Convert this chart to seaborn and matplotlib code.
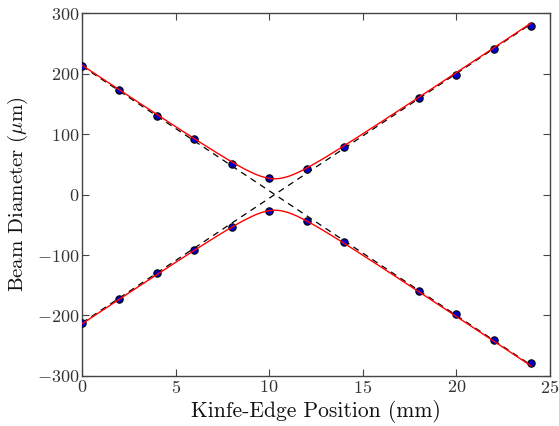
import numpy as np
import pandas as pd
import matplotlib
matplotlib.use("Agg")
import matplotlib.pyplot as plt
import seaborn as sns

# measured data
positions = [0, 2, 4, 6, 8, 10, 12, 14, 18, 20, 22, 24]
upper = [213, 172, 130, 92, 51, 27, 42, 79, 160, 198, 240, 279]
lower = [-213, -173, -130, -92, -53, -28, -43, -79, -160, -198, -240, -279]

# fit parameters (Gaussian beam waist)
waist = 26.0
waist_pos = 10.3
divergence = 20.6

x_ticks = [0, 5, 10, 15, 20, 25]
y_ticks = [-300, -200, -100, 0, 100, 200, 300]

sns.set_style("ticks")
plt.rcParams.update({
    "font.family": "serif",
    "font.serif": ["cmr10", "DejaVu Serif"],
    "mathtext.fontset": "cm",
    "axes.formatter.use_mathtext": True,
    "axes.unicode_minus": True,
    "xtick.direction": "in",
    "ytick.direction": "in",
    "xtick.top": True,
    "ytick.right": True,
    "axes.edgecolor": "#444444",
    "axes.linewidth": 1.0,
})

fig = plt.figure(figsize=(5.59, 4.26), dpi=100)
ax = fig.add_axes([0.1467, 0.1174, 0.837, 0.852])

z = np.linspace(positions[0], positions[-1], 400)
fit = np.sqrt(waist**2 + (divergence * (z - waist_pos))**2)
asym = divergence * (z - waist_pos)

curves = pd.DataFrame({"z": z, "fit": fit, "asym": asym})
sns.lineplot(data=curves, x="z", y="asym", ax=ax, color="black", lw=0.9,
             linestyle=(0, (5, 4)))
sns.lineplot(x=curves["z"], y=-curves["asym"], ax=ax, color="black", lw=0.9,
             linestyle=(0, (5, 4)))

pts = pd.DataFrame({"x": positions * 2, "y": upper + lower})
sns.scatterplot(data=pts, x="x", y="y", ax=ax, color="#0000cc",
                edgecolor="black", linewidth=0.8, s=28, zorder=3)

sns.lineplot(data=curves, x="z", y="fit", ax=ax, color="red", lw=1.0, zorder=4)
sns.lineplot(x=curves["z"], y=-curves["fit"], ax=ax, color="red", lw=1.0, zorder=4)

ax.set_xlim(0, 25)
ax.set_ylim(-300, 300)
ax.set_xticks(x_ticks)
ax.set_yticks(y_ticks)
ax.tick_params(labelsize=13, length=5, width=0.8, colors="#444444",
               labelcolor="#333333", pad=2)
ax.set_xlabel("Kinfe-Edge Position (mm)", fontsize=15.5, labelpad=3,
              color="#111111")
ax.set_ylabel(r"Beam Diameter ($\mu$m)", fontsize=15, labelpad=5,
              color="#111111")

fig.savefig("out.png", dpi=100)
